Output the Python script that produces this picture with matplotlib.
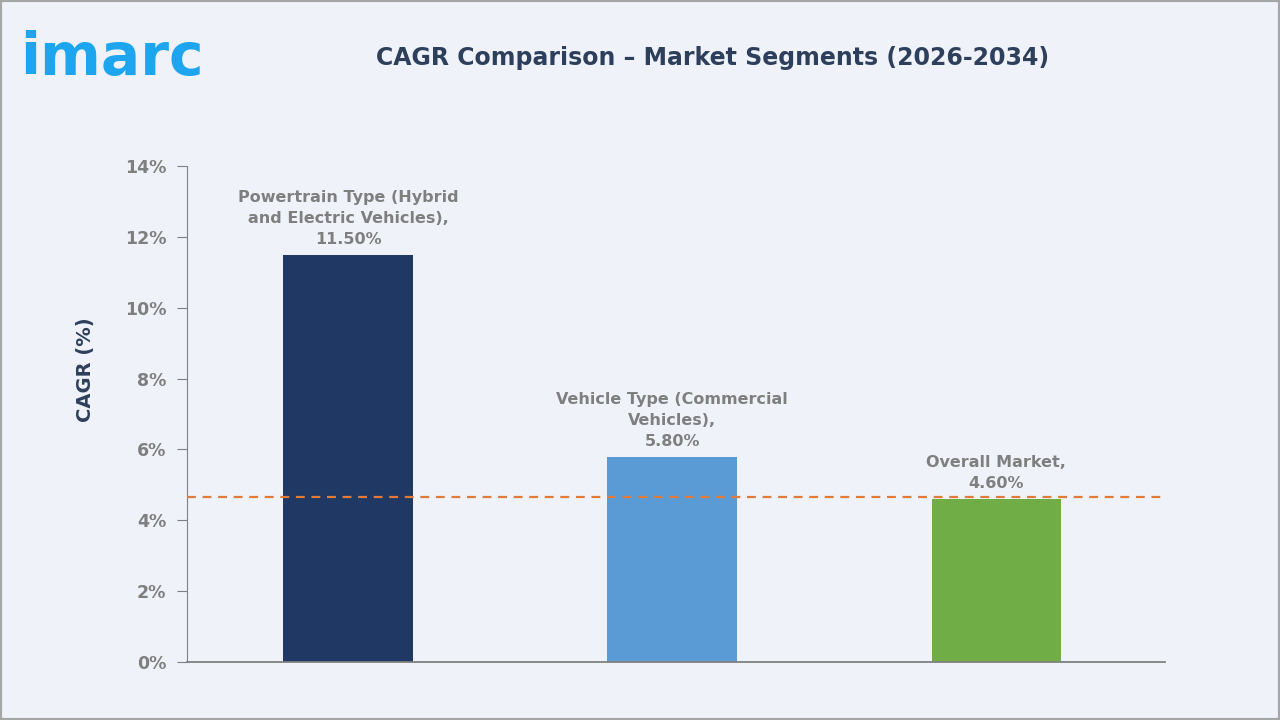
import matplotlib.pyplot as plt
from matplotlib.patches import Rectangle

# --- data ---
categories = ["Powertrain Type (Hybrid\nand Electric Vehicles),\n11.50%",
              "Vehicle Type (Commercial\nVehicles),\n5.80%",
              "Overall Market,\n4.60%"]
cagr = [11.5, 5.8, 4.6]
bar_colors = ["#1F3864", "#5B9BD5", "#70AD47"]
overall_ref = 4.65
yticks = [0, 2, 4, 6, 8, 10, 12, 14]

bg = "#EFF3F9"
navy = "#2E3F5C"
grey = "#7F7F7F"

fig = plt.figure(figsize=(12.8, 7.2), dpi=100, facecolor=bg)
fig.patches.append(Rectangle((0, 0), 1, 1, transform=fig.transFigure,
                             fill=False, edgecolor="#A6A6A6", lw=3))

ax = fig.add_axes([187/1280, 1 - 662/720, (1165-187)/1280, (662-166)/720])
ax.set_facecolor(bg)

x = range(len(cagr))
ax.bar(x, cagr, width=0.4, color=bar_colors, zorder=2)
ax.axhline(overall_ref, color="#E07B39", ls=(0, (4, 3)), lw=1.6, zorder=3)

for i, (v, lab) in enumerate(zip(cagr, categories)):
    ax.text(i, v + 0.22, lab, ha="center", va="bottom", color=grey,
            fontsize=11.5, fontweight="bold", linespacing=1.5)

ax.set_xlim(-0.497, 2.52)
ax.set_ylim(0, 14)
ax.set_yticks(yticks)
ax.set_yticklabels([f"{t}%" for t in yticks])
ax.set_xticks([])
ax.tick_params(axis="y", colors=grey, labelsize=12.5, length=7, pad=8)
for t in ax.get_yticklabels():
    t.set_fontweight("bold")
    t.set_color(grey)
for s in ["top", "right"]:
    ax.spines[s].set_visible(False)
ax.spines["left"].set_color("#808080")
ax.spines["bottom"].set_color("#808080")
ax.spines["bottom"].set_linewidth(1.3)

fig.text(85/1280, 1 - 370/720, "CAGR (%)", rotation=90, ha="center", va="center",
         color=navy, fontsize=14, fontweight="bold")

fig.text(713/1280, 0.92, "CAGR Comparison \u2013 Market Segments (2026-2034)",
         ha="center", va="center", color=navy, fontsize=17, fontweight="bold")
fig.text(20/1280, 1 - 75/720, "imarc", ha="left", va="baseline", color="#1EA5F0",
         fontsize=42, fontweight="bold")

fig.savefig("out.png", dpi=100, facecolor=bg)
